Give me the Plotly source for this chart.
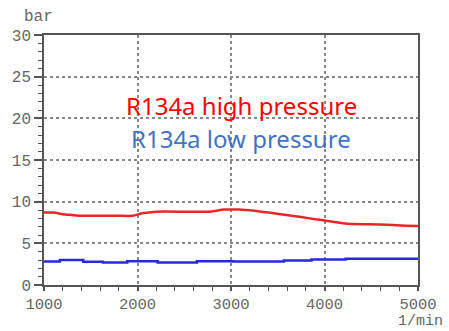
import plotly.graph_objects as go

rpm_high = [1000, 1100, 1200, 1300, 1400, 1600, 1800, 1950, 2050, 2200, 2500, 2780, 2920, 3000, 3090, 3250, 3400, 3550, 3750, 3900, 4000, 4240, 4590, 4870, 5000]
p_high = [8.7, 8.7, 8.5, 8.4, 8.3, 8.3, 8.3, 8.3, 8.6, 8.8, 8.8, 8.8, 9.05, 9.05, 9.05, 8.9, 8.7, 8.45, 8.15, 7.9, 7.75, 7.35, 7.27, 7.1, 7.08]

rpm_low = [1000, 1170, 1380, 1420, 1630, 1890, 2215, 2635, 3020, 3565, 3860, 4225, 5000]
p_low = [2.81, 3.0, 3.0, 2.8, 2.69, 2.85, 2.69, 2.85, 2.81, 2.93, 3.05, 3.16, 3.16]

x_ticks = [1000, 2000, 3000, 4000, 5000]
y_ticks = [0, 5, 10, 15, 20, 25, 30]

fig = go.Figure()
fig.add_trace(go.Scatter(x=rpm_high, y=p_high, mode="lines",
                         line=dict(color="#E82828", width=2.5, shape="spline", smoothing=0.4)))
fig.add_trace(go.Scatter(x=rpm_low, y=p_low, mode="lines",
                         line=dict(color="#2828DC", width=2.5, shape="hv")))

tickfont = dict(family="Liberation Mono", size=16, color="#666666")
xtickfont = dict(family="Liberation Mono", size=15.5, color="#666666")
axis_common = dict(showline=True, linecolor="#555555", linewidth=1.5, mirror=True,
                   ticks="outside", tickwidth=1.5, tickcolor="#555555",
                   showgrid=True, gridcolor="#888888", griddash="dot", gridwidth=1.5,
                   zeroline=False)

fig.update_xaxes(range=[1000, 5000], tickvals=x_ticks, ticktext=[str(v) for v in x_ticks],
                 ticklen=4, ticklabelstandoff=0, tickfont=xtickfont,
                 minor=dict(dtick=200, ticks="outside", ticklen=4, tickcolor="#555555", tickwidth=1.2, showgrid=False),
                 **axis_common)
fig.update_yaxes(range=[0, 30], tickvals=y_ticks, ticktext=[str(v) for v in y_ticks],
                 ticklen=8, tickfont=tickfont,
                 minor=dict(dtick=1, ticks="outside", ticklen=4, tickcolor="#555555", tickwidth=1.2, showgrid=False),
                 **axis_common)

fig.add_annotation(x=3110, y=21.6, text="R134a high pressure", showarrow=False,
                   font=dict(family="Noto Sans", size=24, color="#FF0000"),
                   xanchor="center", yanchor="middle")
fig.add_annotation(x=3110, y=17.6, text="R134a low pressure", showarrow=False,
                   font=dict(family="Noto Sans", size=24, color="#4472C4"),
                   xanchor="center", yanchor="middle")
fig.add_annotation(xref="paper", yref="paper", x=-0.016, y=1.072, text="bar", showarrow=False,
                   font=tickfont, xanchor="center", yanchor="middle")
fig.add_annotation(xref="paper", yref="paper", x=1.008, y=-0.185, text="1/min", showarrow=False,
                   font=dict(family="Liberation Mono", size=15, color="#666666"),
                   xanchor="center", yanchor="bottom", borderpad=0)

fig.update_layout(width=449, height=331, margin=dict(l=37, r=30, t=35, b=46),
                  paper_bgcolor="white", plot_bgcolor="white", showlegend=False)

fig.write_html("out.html")
